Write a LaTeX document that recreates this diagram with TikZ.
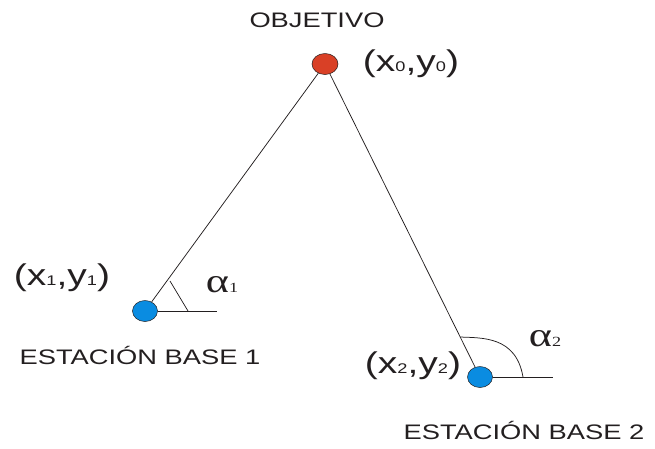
\documentclass[tikz,border=0pt]{standalone}
\usepackage{fontspec}
\setmainfont{Liberation Sans}
\newfontfamily\greek{Liberation Serif}
\usetikzlibrary{positioning,calc,shapes.geometric}
\definecolor{Ink}{RGB}{35,31,32}
\definecolor{Target}{RGB}{217,64,38}
\definecolor{Station}{RGB}{10,140,225}
\newcommand{\wide}[1]{\scalebox{1.3}[1]{#1}}
\newcommand{\idx}[1]{{\fontsize{14}{14}\selectfont #1}}
\newcommand{\xycoord}[2]{\wide{\fontsize{30}{30}\selectfont (x\idx{#1},y\idx{#2})}}
\newcommand{\angl}[1]{\wide{\greek\fontsize{34}{34}\selectfont α\fontsize{14}{14}\selectfont #1}}

\begin{document}
\begin{tikzpicture}[x=1pt,y=-1pt,
 dot/.style={ellipse,draw=Ink,line width=.5pt,inner sep=0pt},
 lab/.style={text=Ink,inner sep=0pt,font=\fontsize{21}{21}\selectfont},
 l/.style={line width=.75pt,Ink}]
\useasboundingbox (0,0) rectangle (655,448);
\node[dot,fill=Target,minimum width=26pt,minimum height=21pt] (t) at (325,64) {};
\node[dot,fill=Station,minimum width=25pt,minimum height=21pt] (b1) at (145,311) {};
\node[dot,fill=Station,minimum width=25pt,minimum height=21pt] (b2) at (480,377) {};
\node[lab] (obj) at (317,20) {\wide{OBJETIVO}};
\node[lab] (p0) at (411,64) {\xycoord{0}{0}};
\node[lab] (p1) at (62,278) {\xycoord{1}{1}};
\node[lab] (p2) at (413,366) {\xycoord{2}{2}};
\node[lab] (e1) at (140,355) {\wide{ESTACIÓN BASE 1}};
\node[lab] (e2) at (524,430) {\wide{ESTACIÓN BASE 2}};
\node[lab] (a1) at (222,285) {\angl{1}};
\node[lab] (a2) at (545,339) {\angl{2}};
\coordinate (h1) at (217,311);
\coordinate (h2) at (553,377);
\coordinate (m1) at (170,281);
\coordinate (n1) at (188,311);
\coordinate (m2) at (460,337);
\coordinate (n2) at (523,377);
\draw[l] (t)--(b1); \draw[l] (t)--(b2);
\draw[l] (b1)--(h1); \draw[l] (b2)--(h2);
\draw[l] (m1)--(n1);
\draw[l] (m2) .. controls (482,338) and (516,336) .. (n2);
\end{tikzpicture}
\end{document}
